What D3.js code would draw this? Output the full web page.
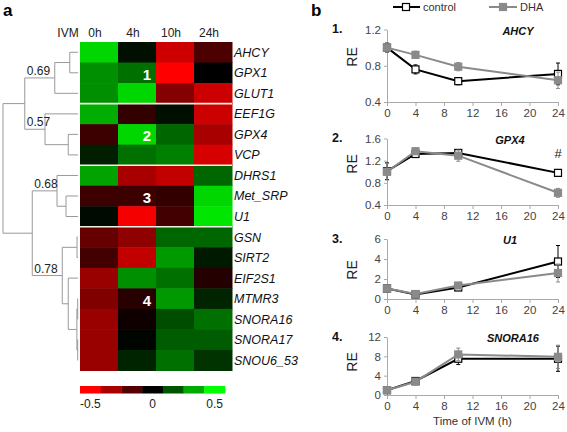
<!DOCTYPE html>
<html>
<head>
<meta charset="utf-8">
<script src="https://cdn.jsdelivr.net/npm/d3@7"></script>
<style>
  body { margin: 0; background: #fff; }
  text { font-family: "Liberation Sans", Arial, sans-serif; }
</style>
</head>
<body>
<div id="fig"></div>
<script>
// ---- heatmap data ----
var genes = ["AHCY", "GPX1", "GLUT1", "EEF1G", "GPX4", "VCP", "DHRS1", "Met_SRP", "U1",
             "GSN", "SIRT2", "EIF2S1", "MTMR3", "SNORA16", "SNORA17", "SNOU6_53"];
var timeCols = ["0h", "4h", "10h", "24h"];
// log ratio per gene, columns 0h 4h 10h 24h
var heatValues = [
  [0.42, 0.03, -0.40, -0.15],
  [0.28, 0.22, -0.50, 0.00],
  [0.28, 0.42, -0.26, -0.40],
  [0.34, -0.10, 0.03, -0.40],
  [-0.12, 0.42, 0.20, -0.33],
  [0.06, 0.22, 0.25, -0.42],
  [0.32, -0.33, -0.38, 0.20],
  [-0.12, -0.12, -0.10, 0.42],
  [0.02, -0.48, -0.13, 0.45],
  [-0.20, -0.28, 0.20, 0.20],
  [-0.13, -0.38, 0.30, 0.05],
  [-0.30, 0.28, 0.22, -0.07],
  [-0.25, -0.08, 0.30, 0.07],
  [-0.30, -0.03, 0.15, 0.22],
  [-0.30, 0.01, 0.18, 0.18],
  [-0.30, 0.07, 0.22, 0.10]
];
// dendrogram merges: [left, right, distance]; ids >= 16 are earlier merges
var linkage = [
  [0, 1, 0.11], [16, 2, 0.31], [4, 5, 0.13], [3, 18, 0.44], [17, 19, 0.71],
  [7, 8, 0.16], [6, 21, 0.28], [9, 10, 0.013], [12, 13, 0.004], [14, 15, 0.004],
  [24, 25, 0.015], [11, 26, 0.13], [23, 27, 0.21], [22, 28, 0.61], [20, 29, 1.0]
];
var clusterNodes = [17, 19, 22, 28];
var clusterCorr = ["0.69", "0.57", "0.68", "0.78"];
var clusterNames = ["1", "2", "3", "4"];
var clusterMarkGene = ["GPX1", "GPX4", "Met_SRP", "MTMR3"];
var clusterEnds = ["GLUT1", "VCP", "U1"];
var legendValues = [-0.5, -1 / 3, -1 / 6, 0, 1 / 6, 1 / 3, 0.5];
var legendLabels = [-0.5, 0, 0.5];

// ---- qPCR data ----
var hours = [0, 4, 10, 24];
var panelGenes = ["AHCY", "GPX4", "U1", "SNORA16"];
var ctrlRE = [[1.00, 0.76, 0.63, 0.71], [1.01, 1.32, 1.34, 0.98], [1.05, 0.45, 1.15, 3.75], [1.00, 2.90, 7.50, 7.50]];
var ctrlErr = [[0.05, 0.05, 0.04, 0.12], [0.15, 0.04, 0.06, 0.06], [0.10, 0.10, 0.15, 1.60], [0.20, 0.60, 1.20, 2.60]];
var dhaRE = [[1.00, 0.92, 0.79, 0.64], [1.00, 1.37, 1.29, 0.62], [1.05, 0.50, 1.35, 2.60], [1.00, 2.75, 8.40, 7.90]];
var dhaErr = [[0.05, 0.04, 0.045, 0.09], [0.15, 0.04, 0.10, 0.08], [0.10, 0.10, 0.15, 0.90], [0.20, 0.70, 1.30, 2.40]];
var yDomains = [[0.4, 1.2], [0.4, 1.6], [0, 6], [0, 12]];
var yTicks = [[0.4, 0.8, 1.2], [0.4, 0.8, 1.2, 1.6], [0, 2, 4, 6], [0, 4, 8, 12]];
var xTicks = [0, 4, 8, 12, 16, 20, 24];

var W = 567, H = 432;
var svg = d3.select("#fig").append("svg")
    .attr("width", W).attr("height", H);

var grey = "#999";
var txt = "#333";

// ================= panel a =================
svg.append("text").attr("x", 3).attr("y", 16)
    .style("font-size", "17px").style("font-weight", "bold").text("a");

var xCol = d3.scaleBand().domain(timeCols).range([80, 232]);
var yRow = d3.scaleBand().domain(genes).range([42, 370.5]);
var color = d3.scaleLinear().domain([-0.5, 0, 0.5])
    .range(["#ff0000", "#000000", "#00ff00"]).clamp(true);

var cells = [];
genes.forEach(function(g, i) {
  timeCols.forEach(function(t, j) {
    cells.push({gene: g, time: t, value: heatValues[i][j]});
  });
});

svg.append("g").selectAll("rect")
  .data(cells).enter().append("rect")
    .attr("x", function(d) { return xCol(d.time); })
    .attr("y", function(d) { return yRow(d.gene); })
    .attr("width", xCol.bandwidth() + 0.5)
    .attr("height", yRow.bandwidth() + 0.5)
    .attr("fill", function(d) { return color(d.value); });

// white lines between the clusters
svg.append("g").selectAll("line")
  .data(clusterEnds).enter().append("line")
    .attr("x1", 80).attr("x2", 232)
    .attr("y1", function(d) { return yRow(d) + yRow.bandwidth(); })
    .attr("y2", function(d) { return yRow(d) + yRow.bandwidth(); })
    .attr("stroke", "#f4f0e8").attr("stroke-width", 1.6);

// column headers
svg.append("text").attr("x", 68).attr("y", 37).attr("text-anchor", "middle")
    .style("font-size", "12px").attr("fill", "#222").text("IVM");
svg.append("g").selectAll("text")
  .data(timeCols).enter().append("text")
    .attr("x", function(d) { return xCol(d) + xCol.bandwidth() / 2 - 4; })
    .attr("y", 37)
    .attr("text-anchor", "middle")
    .style("font-size", "12px").attr("fill", "#222")
    .text(function(d) { return d; });

// row labels
svg.append("g").selectAll("text")
  .data(genes).enter().append("text")
    .attr("x", 234)
    .attr("y", function(d) { return yRow(d) + yRow.bandwidth() / 2 + 4.5; })
    .style("font-size", "12.5px").style("font-style", "italic").attr("fill", "#111")
    .text(function(d) { return d; });

// cluster numbers
svg.append("g").selectAll("text")
  .data(clusterNames).enter().append("text")
    .attr("x", xCol("4h") + xCol.bandwidth() * 0.76)
    .attr("y", function(d, i) { return yRow(clusterMarkGene[i]) + yRow.bandwidth() / 2 + 7; })
    .attr("text-anchor", "middle")
    .style("font-size", "15px").style("font-weight", "bold").attr("fill", "#fff")
    .text(function(d) { return d; });

// dendrogram
var xDist = d3.scaleLinear().domain([0, 1]).range([78, 3]);
var nodes = genes.map(function(g) {
  return {x: xDist(0), y: yRow(g) + yRow.bandwidth() / 2};
});
var parentOf = {};
var dendro = svg.append("g").attr("fill", "none").attr("stroke", grey).attr("stroke-width", 1);
linkage.forEach(function(m, k) {
  var a = nodes[m[0]], b = nodes[m[1]];
  var n = {x: xDist(m[2]), y: (a.y + b.y) / 2};
  dendro.append("path")
    .attr("d", "M" + a.x + "," + a.y + "H" + n.x + "V" + b.y + "H" + b.x);
  parentOf[m[0]] = genes.length + k;
  parentOf[m[1]] = genes.length + k;
  nodes.push(n);
});
svg.append("g").selectAll("text")
  .data(clusterCorr).enter().append("text")
    .attr("x", function(d, i) { return nodes[parentOf[clusterNodes[i]]].x + 2; })
    .attr("y", function(d, i) { return nodes[clusterNodes[i]].y - 3; })
    .style("font-size", "12px").attr("fill", "#222")
    .text(function(d) { return d; });

// colour key
var xKey = d3.scaleBand().domain(d3.range(legendValues.length)).range([80, 225]);
svg.append("g").selectAll("rect")
  .data(legendValues).enter().append("rect")
    .attr("x", function(d, i) { return xKey(i); })
    .attr("y", 386)
    .attr("width", xKey.bandwidth() + 0.3)
    .attr("height", 7.5)
    .attr("fill", function(d) { return color(d); });
svg.append("g").selectAll("text")
  .data(legendLabels).enter().append("text")
    .attr("x", function(d) {
      var i = legendValues.indexOf(d);
      return xKey(i) + xKey.bandwidth() / 2;
    })
    .attr("y", 408)
    .attr("text-anchor", "middle")
    .style("font-size", "12px").attr("fill", "#222")
    .text(function(d) { return d; });

// ================= panel b =================
svg.append("text").attr("x", 311).attr("y", 16)
    .style("font-size", "17px").style("font-weight", "bold").text("b");

// legend
var ctrlCol = "#000", dhaCol = "#8a8a8a";
function marker(g, x, y, isCtrl) {
  g.append("rect")
    .attr("x", x - 3.5).attr("y", y - 3.5)
    .attr("width", 7).attr("height", 7)
    .attr("fill", isCtrl ? "#fff" : dhaCol)
    .attr("stroke", isCtrl ? ctrlCol : dhaCol)
    .attr("stroke-width", 1.2);
}
var leg = svg.append("g");
leg.append("line").attr("x1", 393).attr("x2", 420).attr("y1", 7).attr("y2", 7)
    .attr("stroke", ctrlCol).attr("stroke-width", 2);
marker(leg, 406, 7, true);
leg.append("text").attr("x", 423).attr("y", 11).style("font-size", "11px").attr("fill", txt).text("control");
leg.append("line").attr("x1", 489).attr("x2", 517).attr("y1", 7).attr("y2", 7)
    .attr("stroke", dhaCol).attr("stroke-width", 2);
marker(leg, 503, 7, false);
leg.append("text").attr("x", 520).attr("y", 11).style("font-size", "11px").attr("fill", txt).text("DHA");

var panelTop = [29.5, 138.5, 239, 337];
var panelBottom = [102, 205, 299, 395];
var reY = [57, 164, 270, 362];
var geneX = [518, 510, 510, 513];
var x = d3.scaleLinear().domain([0, 24]).range([387, 558]);

panelGenes.forEach(function(gName, p) {
  var y = d3.scaleLinear().domain(yDomains[p]).range([panelBottom[p], panelTop[p]]);
  var g = svg.append("g");

  var ya = g.append("g").attr("transform", "translate(" + x(0) + ",0)")
    .call(d3.axisLeft(y).tickValues(yTicks[p]).tickSize(3).tickSizeOuter(0).tickPadding(3)
      .tickFormat(function(v) { return v; }));
  var xa = g.append("g").attr("transform", "translate(0," + panelBottom[p] + ")")
    .call(d3.axisBottom(x).tickValues(xTicks).tickSize(4).tickSizeOuter(0).tickPadding(3));
  [ya, xa].forEach(function(ax) {
    ax.select(".domain").attr("stroke", "#aaa");
    ax.selectAll(".tick line").attr("stroke", "#aaa");
    ax.selectAll("text").attr("fill", "#444").style("font-size", "11.5px")
      .style("font-family", "'Liberation Sans', Arial, sans-serif");
  });

  g.append("text").attr("x", 332).attr("y", panelTop[p] + 3.5)
    .style("font-size", "12.5px").style("font-weight", "bold").attr("fill", "#111")
    .text((p + 1) + ".");
  g.append("text")
    .attr("transform", "translate(357," + reY[p] + ")rotate(-90)")
    .attr("text-anchor", "middle")
    .style("font-size", "14px").attr("fill", "#222").text("RE");
  g.append("text").attr("x", geneX[p]).attr("y", panelTop[p] + 5)
    .attr("text-anchor", "middle")
    .style("font-size", "11px").style("font-weight", "bold").style("font-style", "italic")
    .attr("fill", "#111").text(gName);

  var series = [
    {vals: ctrlRE[p], errs: ctrlErr[p], col: ctrlCol, ctrl: true},
    {vals: dhaRE[p], errs: dhaErr[p], col: dhaCol, ctrl: false}
  ];
  series.forEach(function(s) {
    var pts = hours.map(function(h, i) { return {h: h, v: s.vals[i], e: s.errs[i]}; });
    g.append("path").datum(pts)
      .attr("fill", "none").attr("stroke", s.col).attr("stroke-width", 2)
      .attr("d", d3.line().x(function(d) { return x(d.h); }).y(function(d) { return y(d.v); }));
    var eb = g.append("g").attr("stroke", s.col).attr("stroke-width", 1);
    pts.forEach(function(d) {
      eb.append("path")
        .attr("fill", "none")
        .attr("d", "M" + (x(d.h) - 2) + "," + y(d.v + d.e) + "H" + (x(d.h) + 2) +
                   "M" + x(d.h) + "," + y(d.v + d.e) + "V" + y(d.v - d.e) +
                   "M" + (x(d.h) - 2) + "," + y(d.v - d.e) + "H" + (x(d.h) + 2));
    });
    pts.forEach(function(d) { marker(g, x(d.h), y(d.v), s.ctrl); });
  });
});

// significance mark on GPX4 at 24 h
svg.append("text").attr("x", x(24)).attr("y", 158).attr("text-anchor", "middle")
    .style("font-size", "13px").attr("fill", "#222").text("#");

svg.append("text").attr("x", x(12)).attr("y", 425).attr("text-anchor", "middle")
    .style("font-size", "11.5px").attr("fill", txt).text("Time of IVM (h)");
</script>
</body>
</html>
